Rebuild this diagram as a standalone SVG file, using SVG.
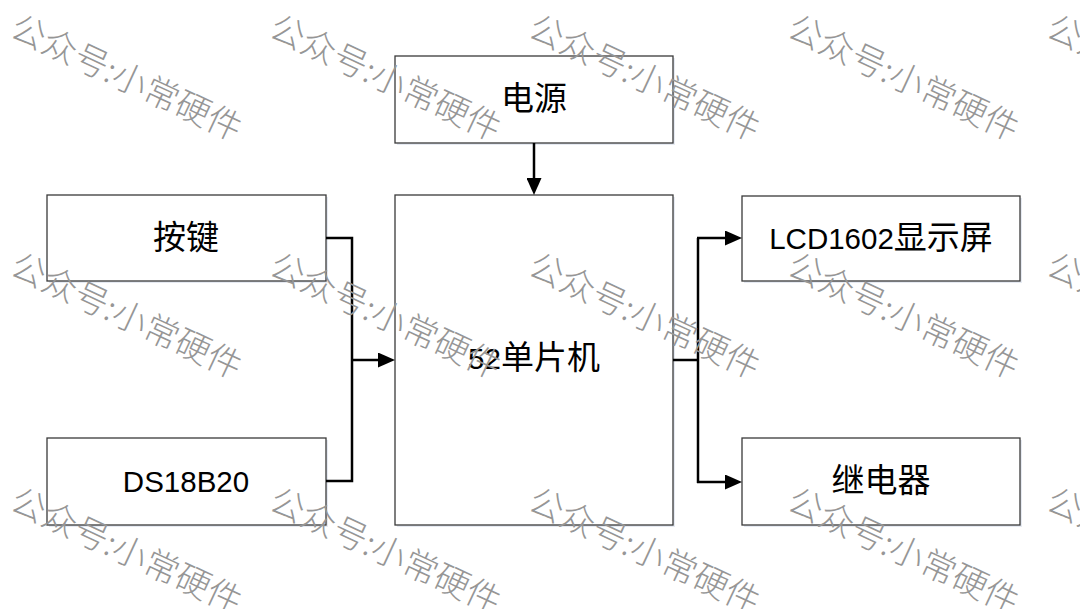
<svg xmlns="http://www.w3.org/2000/svg" width="1080" height="609" viewBox="0 0 1080 609">
<style>
.box{fill:#ffffff;stroke:#3a3a3a;stroke-width:1.3}
.shadow{fill:#e6eaf2}
.lbl{font-family:"Noto Sans CJK SC","Liberation Sans",sans-serif;font-size:33px;fill:#000;text-anchor:middle}
.lat{font-family:"Liberation Sans","Noto Sans CJK SC",sans-serif;font-size:29.5px}
.wire{fill:none;stroke:#000;stroke-width:2.5;stroke-linejoin:miter;stroke-linecap:butt}
.wm{font-family:"Noto Sans CJK SC",sans-serif;font-weight:300;font-size:34.5px;fill:#969696}
</style>
<defs>
<marker id="arr" viewBox="0 0 17 15" markerWidth="17" markerHeight="15" refX="5" refY="7.5" markerUnits="userSpaceOnUse" orient="auto">
<path d="M0,0 L17,7.5 L0,15 z" fill="#000"/>
</marker>
</defs>
<rect width="1080" height="609" fill="#ffffff"/>

<g id="node-power">
<rect class="shadow" x="397" y="58" width="278" height="87"/>
<rect class="box" x="395" y="56" width="278" height="87"/>
<text class="lbl" x="534" y="110">电源</text>
</g>
<g id="node-mcu">
<rect class="shadow" x="397" y="197" width="278" height="330"/>
<rect class="box" x="395" y="195" width="278" height="330"/>
<text class="lbl" x="534" y="369"><tspan class="lat">52</tspan>单片机</text>
</g>
<g id="node-key">
<rect class="shadow" x="49" y="197" width="279" height="86"/>
<rect class="box" x="47" y="195" width="279" height="86"/>
<text class="lbl" x="186" y="249">按键</text>
</g>
<g id="node-ds18b20">
<rect class="shadow" x="49" y="440" width="279" height="87"/>
<rect class="box" x="47" y="438" width="279" height="87"/>
<text class="lbl" x="186" y="492"><tspan class="lat">DS18B20</tspan></text>
</g>
<g id="node-lcd">
<rect class="shadow" x="744" y="198" width="278" height="85"/>
<rect class="box" x="742" y="196" width="278" height="85"/>
<text class="lbl" x="881" y="249"><tspan class="lat">LCD1602</tspan>显示屏</text>
</g>
<g id="node-relay">
<rect class="shadow" x="744" y="440" width="278" height="87"/>
<rect class="box" x="742" y="438" width="278" height="87"/>
<text class="lbl" x="881" y="492">继电器</text>
</g>

<g id="connectors">
<line class="wire" x1="534" y1="143" x2="534" y2="183" marker-end="url(#arr)"/>
<polyline class="wire" points="326,238 352,238 352,481 326,481"/>
<line class="wire" x1="352" y1="360" x2="383" y2="360" marker-end="url(#arr)"/>
<polyline class="wire" points="673,360 698,360"/>
<line class="wire" x1="698" y1="238" x2="698" y2="483"/>
<line class="wire" x1="697" y1="238" x2="730" y2="238" marker-end="url(#arr)"/>
<line class="wire" x1="697" y1="482" x2="730" y2="482" marker-end="url(#arr)"/>
</g>

<g id="watermarks">
<text class="wm" x="8" y="36" transform="rotate(25 8 36)">公众号:小常硬件</text>
<text class="wm" x="267" y="36" transform="rotate(25 267 36)">公众号:小常硬件</text>
<text class="wm" x="526" y="36" transform="rotate(25 526 36)">公众号:小常硬件</text>
<text class="wm" x="785" y="36" transform="rotate(25 785 36)">公众号:小常硬件</text>
<text class="wm" x="1044" y="36" transform="rotate(25 1044 36)">公众号:小常硬件</text>
<text class="wm" x="8" y="274" transform="rotate(25 8 274)">公众号:小常硬件</text>
<text class="wm" x="267" y="274" transform="rotate(25 267 274)">公众号:小常硬件</text>
<text class="wm" x="526" y="274" transform="rotate(25 526 274)">公众号:小常硬件</text>
<text class="wm" x="785" y="274" transform="rotate(25 785 274)">公众号:小常硬件</text>
<text class="wm" x="1044" y="274" transform="rotate(25 1044 274)">公众号:小常硬件</text>
<text class="wm" x="8" y="509" transform="rotate(25 8 509)">公众号:小常硬件</text>
<text class="wm" x="267" y="509" transform="rotate(25 267 509)">公众号:小常硬件</text>
<text class="wm" x="526" y="509" transform="rotate(25 526 509)">公众号:小常硬件</text>
<text class="wm" x="785" y="509" transform="rotate(25 785 509)">公众号:小常硬件</text>
<text class="wm" x="1044" y="509" transform="rotate(25 1044 509)">公众号:小常硬件</text>
</g>
</svg>
